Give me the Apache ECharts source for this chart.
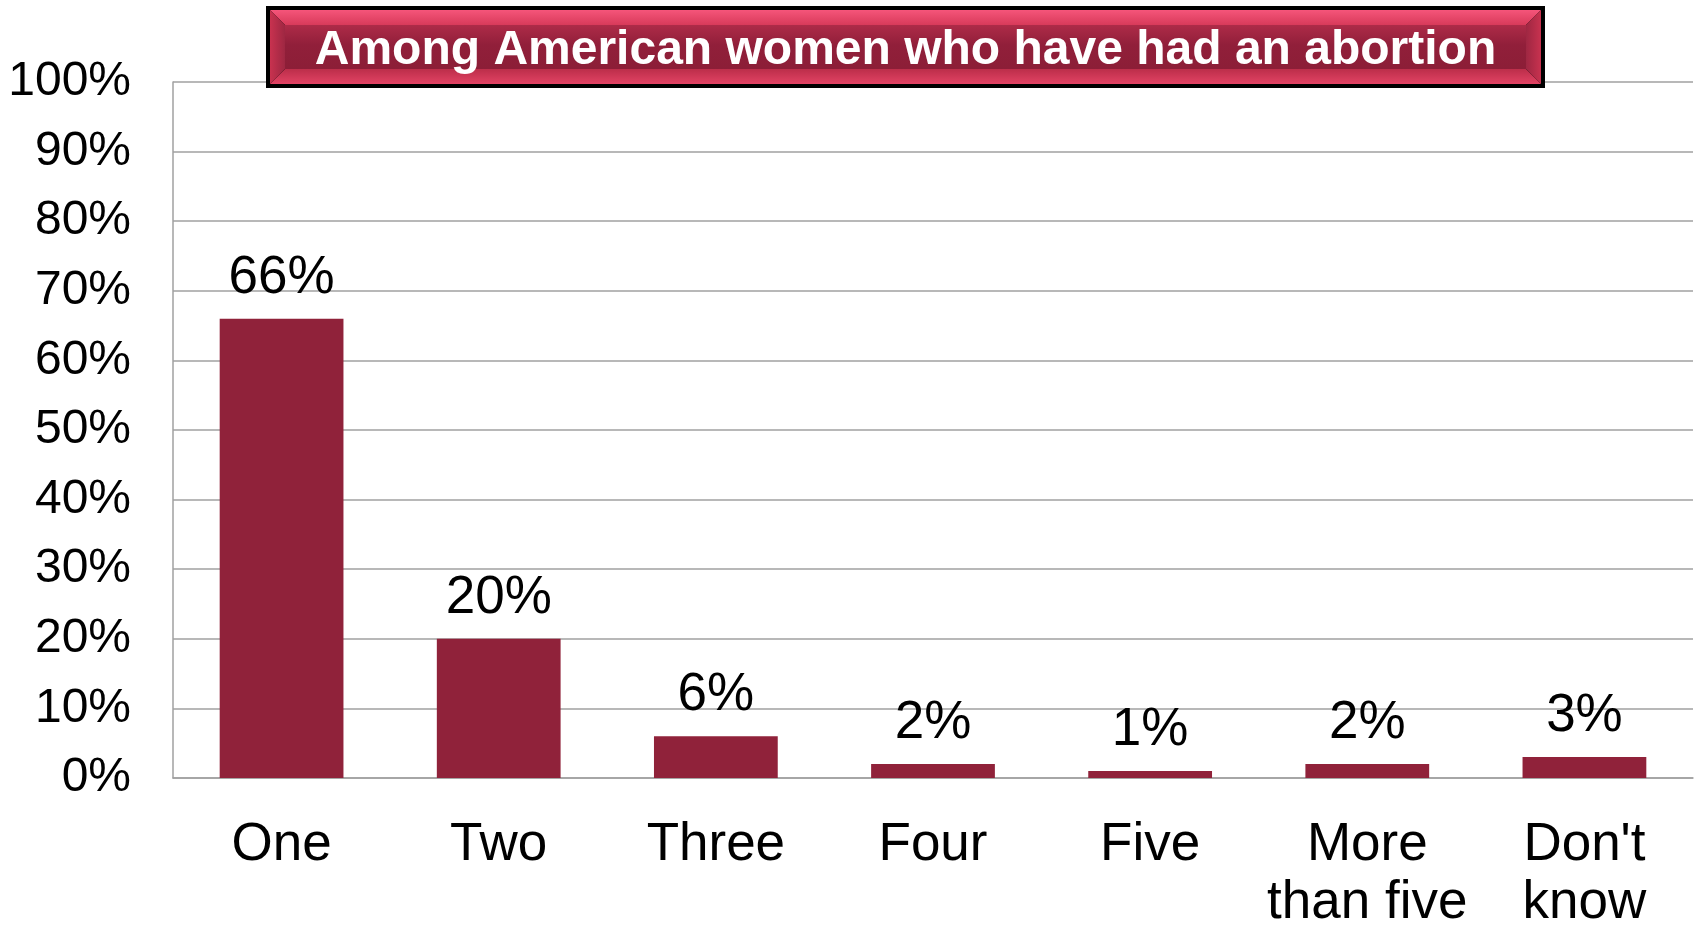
<!DOCTYPE html>
<html>
<head>
<meta charset="utf-8">
<script src="https://cdn.jsdelivr.net/npm/echarts@6/dist/echarts.min.js"></script>
<style>
html, body { margin: 0; padding: 0; background: #fff; }
#main { width: 1700px; height: 930px; }
</style>
</head>
<body>
<div id="main"></div>
<script>
var categories = ['One', 'Two', 'Three', 'Four', 'Five', 'More\nthan five', "Don't\nknow"];
var shares = [66, 20, 6, 2, 1, 2, 3];
var yTicks = [0, 10, 20, 30, 40, 50, 60, 70, 80, 90, 100];
var titleText = 'Among American women who have had an abortion';

var myChart = echarts.init(document.getElementById('main'));

// 标题框 左上角和大小
var bx = 266, by = 6, bw = 1279, bh = 82, bev = 15;
var ix = bx + 4, iy = by + 4, iw = bw - 8, ih = bh - 8;

var option = {
	animation: false,
	backgroundColor: '#fff',
	grid: {
		left: 173,
		right: 7,
		top: 82,
		bottom: 152,
		containLabel: false,
		outerBoundsMode: 'none'
	},
	xAxis: {
		type: 'category',
		data: categories,
		axisLine: { lineStyle: { color: '#A0A0A0', width: 1.5 } },
		axisTick: { show: false },
		axisLabel: {
			color: '#000',
			fontFamily: 'Liberation Sans, Arial',
			fontSize: 53,
			lineHeight: 58,
			margin: 38,
			interval: 0
		}
	},
	yAxis: {
		type: 'value',
		min: yTicks[0],
		max: yTicks[yTicks.length - 1],
		interval: 10,
		axisLine: { show: true, lineStyle: { color: '#A0A0A0', width: 1.5 } },
		axisTick: { show: false },
		axisLabel: {
			color: '#000',
			fontFamily: 'Liberation Sans, Arial',
			fontSize: 48,
			margin: 42,
			formatter: '{value}%'
		},
		splitLine: { lineStyle: { color: '#A0A0A0', width: 1.5 } }
	},
	series: [{
		type: 'bar',
		data: shares,
		barWidth: '57%',
		itemStyle: { color: '#90223A' },
		label: {
			show: true,
			position: 'top',
			distance: 14,
			color: '#000',
			fontFamily: 'Liberation Sans, Arial',
			fontSize: 53,
			lineHeight: 53,
			formatter: '{c}%'
		}
	}],
	graphic: [
		// 黑色外框
		{ type: 'rect', z: 100, shape: { x: bx, y: by, width: bw, height: bh }, style: { fill: '#000' } },
		// 上斜边
		{ type: 'polygon', z: 101, shape: { points: [[ix, iy], [ix + iw, iy], [ix + iw - bev, iy + bev], [ix + bev, iy + bev]] },
			style: { fill: new echarts.graphic.LinearGradient(0, 0, 0, 1, [{ offset: 0, color: '#F5557A' }, { offset: 1, color: '#D83A5A' }]) } },
		// 下斜边
		{ type: 'polygon', z: 101, shape: { points: [[ix, iy + ih], [ix + iw, iy + ih], [ix + iw - bev, iy + ih - bev], [ix + bev, iy + ih - bev]] },
			style: { fill: new echarts.graphic.LinearGradient(0, 0, 0, 1, [{ offset: 0, color: '#BC2E4A' }, { offset: 1, color: '#E24364' }]) } },
		// 左斜边
		{ type: 'polygon', z: 101, shape: { points: [[ix, iy], [ix + bev, iy + bev], [ix + bev, iy + ih - bev], [ix, iy + ih]] },
			style: { fill: new echarts.graphic.LinearGradient(0, 0, 1, 0, [{ offset: 0, color: '#C8324F' }, { offset: 1, color: '#9E2742' }]) } },
		// 右斜边
		{ type: 'polygon', z: 101, shape: { points: [[ix + iw, iy], [ix + iw - bev, iy + bev], [ix + iw - bev, iy + ih - bev], [ix + iw, iy + ih]] },
			style: { fill: new echarts.graphic.LinearGradient(0, 0, 1, 0, [{ offset: 0, color: '#9E2742' }, { offset: 1, color: '#C8324F' }]) } },
		// 中间
		{ type: 'rect', z: 101, shape: { x: ix + bev, y: iy + bev, width: iw - 2 * bev, height: ih - 2 * bev },
			style: { fill: new echarts.graphic.LinearGradient(0, 0, 0, 1, [{ offset: 0, color: '#AE2B48' }, { offset: 0.45, color: '#911F3A' }, { offset: 1, color: '#8C1E37' }]) } },
		{ type: 'text', z: 102, x: bx + bw / 2, y: by + bh / 2 + 4,
			style: {
				text: titleText,
				fill: '#fff',
				font: 'bold 48px "Liberation Sans", Arial',
				align: 'center',
				verticalAlign: 'middle'
			} }
	]
};

myChart.setOption(option);
</script>
</body>
</html>
